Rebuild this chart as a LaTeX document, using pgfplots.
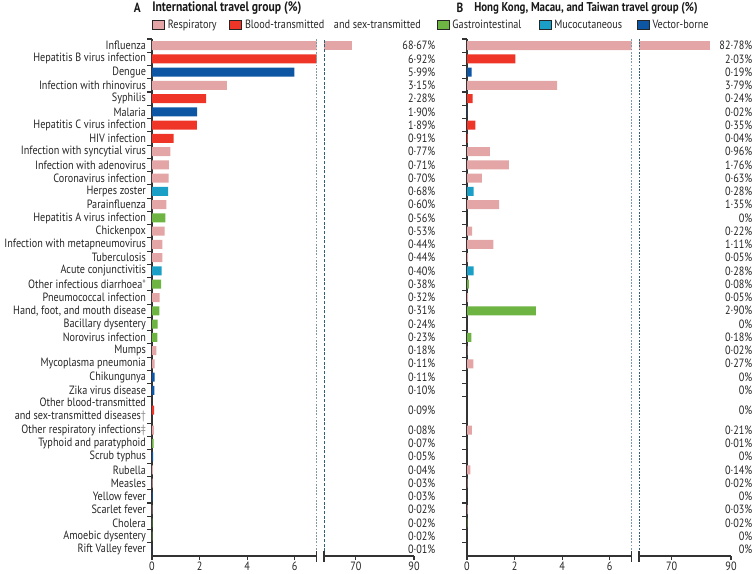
\documentclass[border=0pt]{standalone}
\usepackage{fontspec}
\setmainfont[FakeStretch=0.85]{PT Sans}
\usepackage{pgfplots}
\pgfplotsset{compat=1.18}
\definecolor{resp}{HTML}{E3A5A5}
\definecolor{blood}{HTML}{EE3528}
\definecolor{gastro}{HTML}{6DB443}
\definecolor{muco}{HTML}{1AA0C6}
\definecolor{vector}{HTML}{0D56A4}
\definecolor{dashA}{HTML}{7F9AA6}
\definecolor{dashB}{HTML}{2F6272}
\definecolor{axc}{HTML}{333333}
\pgfplotsset{
  base/.style={
    scale only axis, height=387.75pt, ymin=-0.5, ymax=38.5,
    xbar, bar width=6.75pt,
    tick align=outside,
    axis line style={line width=0.9pt, color=axc},
    major tick length=3pt, minor tick length=3.5pt,
    every tick/.style={line width=0.8pt, color=axc},
    major y tick style={draw=none},
    tick label style={font=\fontsize{9}{10}\selectfont, text=black!85},
    xticklabel style={yshift=2.4pt},
    /pgf/number format/assume math mode=true,
    ytick={0,1,...,9,10.5,12,13,...,38},
    clip mode=individual,
  },
  leftax/.style={base, axis lines*=left, xmin=0, xmax=6.92, xtick={0,2,4,6},
    width=123.4pt,
    minor ytick={0.5,1.5,...,9.5,11.5,12.5,...,38.5},
    minor y tick style={draw=axc, line width=0.8pt},
  },
  rightax/.style={base, axis x line*=bottom, axis y line*=right,
    y axis line style={draw=none}, xmin=59, xmax=90, xtick={70,90},
  },
  bs/.style={draw=none, bar shift=0pt, fill=#1,
    legend image code/.code={\draw[fill=#1, draw=black!85, line width=0.7pt] (0pt,-3.2pt) rectangle (9pt,3.2pt);}},
}
\begin{document}
\begin{tikzpicture}
\useasboundingbox (0,0) rectangle (564.75pt,-430.5pt);
% ---------------- Panel A ----------------
\begin{axis}[leftax, at={(114pt,-417pt)}, anchor=south west,
  yticklabels={Rift Valley fever, Amoebic dysentery, Cholera, Scarlet fever, Yellow fever, Measles, Rubella, Scrub typhus, Typhoid and paratyphoid, {Other respiratory infections\textcolor{black!45}{‡}}, {Other blood-transmitted\\and sex-transmitted diseases\textcolor{black!45}{†}}, Zika virus disease, Chikungunya, Mycoplasma pneumonia, Mumps, Norovirus infection, Bacillary dysentery, {Hand, foot, and mouth disease}, Pneumococcal infection, {Other infectious diarrhoea\textcolor{black!55}{*}}, Acute conjunctivitis, Tuberculosis, Infection with metapneumovirus, Chickenpox, Hepatitis A virus infection, Parainfluenza, Herpes zoster, Coronavirus infection, Infection with adenovirus, Infection with syncytial virus, HIV infection, Hepatitis C virus infection, Malaria, Syphilis, Infection with rhinovirus, Dengue, Hepatitis B virus infection, Influenza},
  yticklabel style={align=right, xshift=2pt},
  legend columns=5,
  legend style={at={(0,1)}, anchor=west, yshift=10.4pt, draw=none, fill=none, inner sep=0pt,
    font=\fontsize{9}{10}\selectfont, text=black!85},
]
\addplot[bs=resp] coordinates {(68.67,38) (3.15,35) (0.77,30) (0.71,29) (0.70,28) (0.60,26) (0.53,24) (0.44,23) (0.44,22) (0.32,19) (0.18,15) (0.11,14) (0.08,9) (0.04,6) (0.03,5) (0.02,3)};
\addlegendentry{Respiratory\rule{7.5pt}{0pt}}
\addplot[bs=blood] coordinates {(6.92,37) (2.28,34) (1.89,32) (0.91,31) (0.09,10.5)};
\addlegendentry{Blood-transmitted\hspace{0.8em}and sex-transmitted\rule{10pt}{0pt}}
\addplot[bs=gastro] coordinates {(0.56,25) (0.38,20) (0.31,18) (0.24,17) (0.23,16) (0.07,8) (0.02,2) (0.02,1)};
\addlegendentry{Gastrointestinal\rule{11pt}{0pt}}
\addplot[bs=muco] coordinates {(0.68,27) (0.40,21)};
\addlegendentry{Mucocutaneous\rule{9pt}{0pt}}
\addplot[bs=vector] coordinates {(5.99,36) (1.90,33) (0.11,13) (0.10,12) (0.05,7) (0.03,4) (0.01,0)};
\addlegendentry{Vector-borne}
\draw[dashA, dash pattern=on 1.4pt off 1pt, line width=0.6pt] (axis cs:6.92,-0.5) -- (axis cs:6.92,38.5);
\draw[axc, line width=0.9pt] ([yshift=3.5pt]axis cs:6.92,-0.5) -- ([yshift=-4.5pt]axis cs:6.92,-0.5);
\end{axis}
\begin{axis}[rightax, at={(243pt,-417pt)}, anchor=south west, width=67.5pt,
  yticklabel style={anchor=east, xshift=16.5pt},
  yticklabels={0·01\%, 0·02\%, 0·02\%, 0·02\%, 0·03\%, 0·03\%, 0·04\%, 0·05\%, 0·07\%, 0·08\%, 0·09\%, 0·10\%, 0·11\%, 0·11\%, 0·18\%, 0·23\%, 0·24\%, 0·31\%, 0·32\%, 0·38\%, 0·40\%, 0·44\%, 0·44\%, 0·53\%, 0·56\%, 0·60\%, 0·68\%, 0·70\%, 0·71\%, 0·77\%, 0·91\%, 1·89\%, 1·90\%, 2·28\%, 3·15\%, 5·99\%, 6·92\%, 68·67\%},
]
\addplot[bs=resp] coordinates {(68.67,38)};
\draw[dashB, dash pattern=on 2.2pt off 1.3pt, line width=0.6pt] (axis cs:59,-0.5) -- (axis cs:59,38.5);
\draw[axc, line width=0.9pt] ([yshift=3.5pt]axis cs:59,-0.5) -- ([yshift=-4.5pt]axis cs:59,-0.5);
\end{axis}
% ---------------- Panel B ----------------
\begin{axis}[leftax, at={(350.25pt,-417pt)}, anchor=south west, yticklabels={}]
\addplot[bs=resp] coordinates {(82.78,38) (3.79,35) (0.96,30) (1.76,29) (0.63,28) (1.35,26) (0.22,24) (1.11,23) (0.05,22) (0.05,19) (0.02,15) (0.27,14) (0.21,9) (0.14,6) (0.02,5) (0.03,3)};
\addplot[bs=blood] coordinates {(2.03,37) (0.24,34) (0.35,32) (0.04,31)};
\addplot[bs=gastro] coordinates {(0.08,20) (2.90,18) (0.18,16) (0.01,8) (0.02,2)};
\addplot[bs=muco] coordinates {(0.28,27) (0.28,21)};
\addplot[bs=vector] coordinates {(0.19,36) (0.02,33)};
\draw[dashA, dash pattern=on 1.4pt off 1pt, line width=0.6pt] (axis cs:6.92,-0.5) -- (axis cs:6.92,38.5);
\draw[axc, line width=0.9pt] ([yshift=3.5pt]axis cs:6.92,-0.5) -- ([yshift=-4.5pt]axis cs:6.92,-0.5);
\end{axis}
\begin{axis}[rightax, at={(479.25pt,-417pt)}, anchor=south west, width=69pt,
  yticklabel style={anchor=east, xshift=16.5pt},
  yticklabels={0\%, 0\%, 0·02\%, 0·03\%, 0\%, 0·02\%, 0·14\%, 0\%, 0·01\%, 0·21\%, 0\%, 0\%, 0\%, 0·27\%, 0·02\%, 0·18\%, 0\%, 2·90\%, 0·05\%, 0·08\%, 0·28\%, 0·05\%, 1·11\%, 0·22\%, 0\%, 1·35\%, 0·28\%, 0·63\%, 1·76\%, 0·96\%, 0·04\%, 0·35\%, 0·02\%, 0·24\%, 3·79\%, 0·19\%, 2·03\%, 82·78\%},
]
\addplot[bs=resp] coordinates {(82.78,38)};
\draw[dashB, dash pattern=on 1.4pt off 1pt, line width=0.6pt] (axis cs:59,-0.5) -- (axis cs:59,38.5);
\draw[axc, line width=0.9pt] ([yshift=3.5pt]axis cs:59,-0.5) -- ([yshift=-4.5pt]axis cs:59,-0.5);
\end{axis}
% titles
\node[anchor=east, font=\bfseries\fontsize{10}{11}\selectfont, text=black!90] at (109pt,-6pt) {A};
\node[anchor=west, inner sep=0pt, font=\bfseries\fontsize{10.3}{11}\selectfont, text=black!90] at (114pt,-6pt) {International travel group (\%)};
\node[anchor=east, font=\bfseries\fontsize{10}{11}\selectfont, text=black!90] at (351pt,-6pt) {B};
\node[anchor=west, inner sep=0pt, font=\bfseries\fontsize{9.6}{11}\selectfont, text=black!90] at (355.5pt,-6pt) {Hong Kong, Macau, and Taiwan travel group (\%)};
\end{tikzpicture}
\end{document}
